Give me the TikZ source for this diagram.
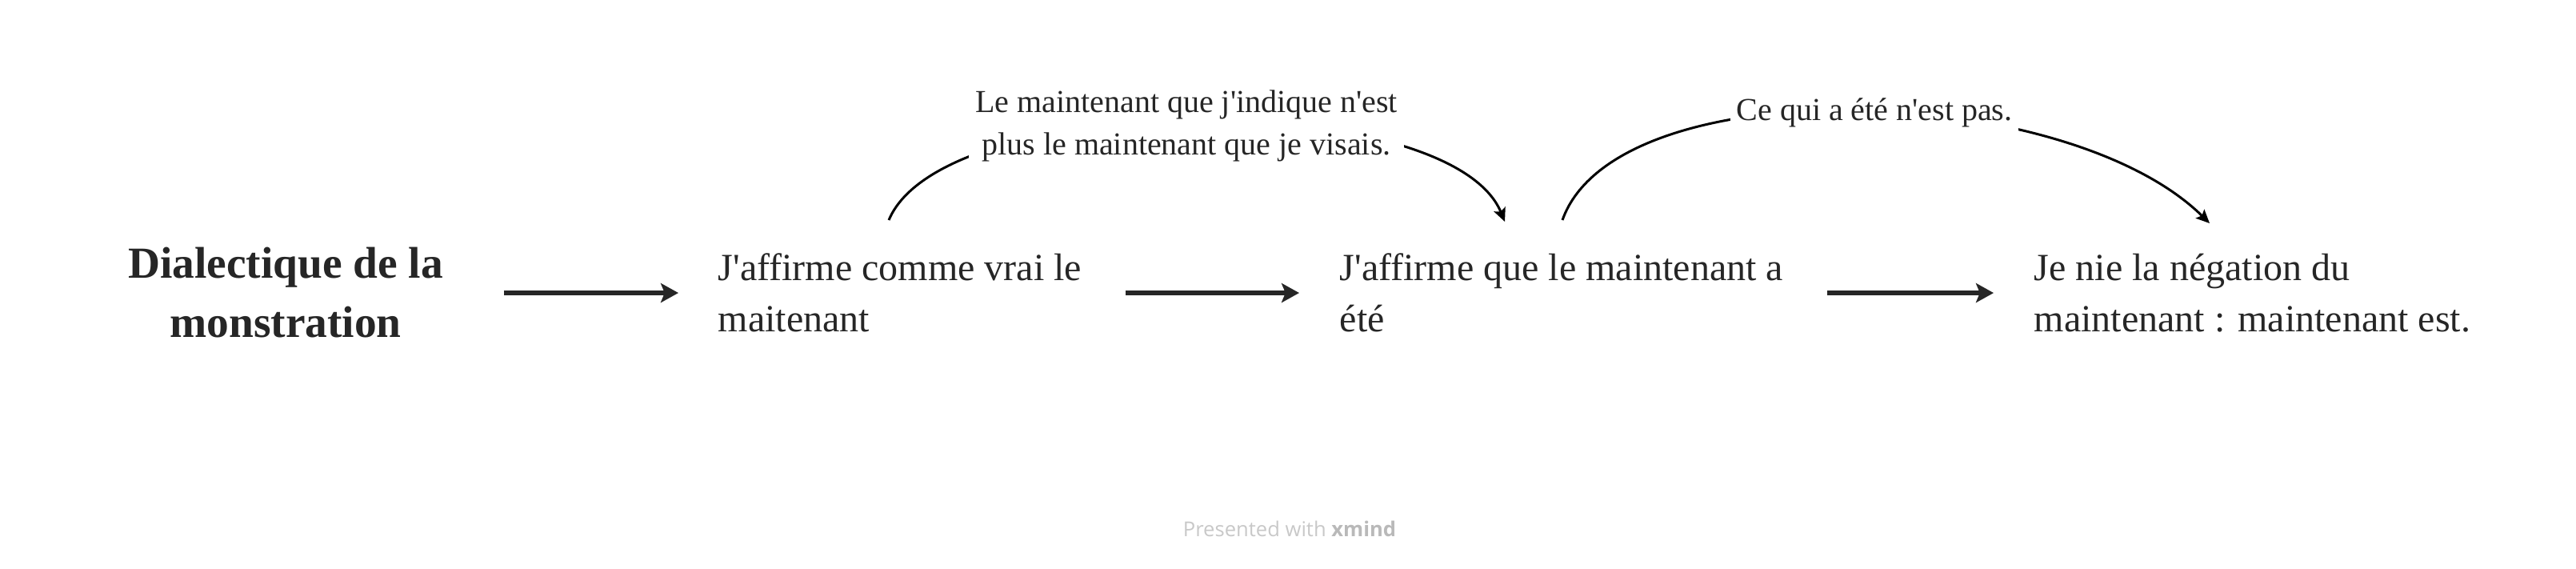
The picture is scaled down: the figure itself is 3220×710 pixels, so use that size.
\documentclass[tikz,border=0pt]{standalone}
\usepackage{fontspec}
\setmainfont{Liberation Serif}[Ligatures=TeXOff]
\newfontfamily\creditfont{Open Sans}
\usetikzlibrary{arrows.meta}
\definecolor{ink}{HTML}{262626}
\definecolor{creditgray}{HTML}{C8C8C8}
\begin{document}
\begin{tikzpicture}[x=0.25pt,y=-0.25pt,
  topic/.style={inner sep=0pt,align=left,text=ink,font=\fontsize{12}{16}\selectfont},
  flow/.style={draw=ink,line width=1.5pt,-{Stealth[length=5.5pt,width=6pt,inset=1.2pt]},
    shorten <=13.5pt,shorten >=12.5pt},
  rel/.style={draw=black,line width=0.75pt,-{Stealth[length=4.2pt,width=3.8pt,inset=0.8pt]}},
  relabel/.style={fill=white,inner sep=2pt,align=center,text=ink,font=\fontsize{10}{13.25}\selectfont}]
  \useasboundingbox (0,0) rectangle (3220,710);
  \node[topic,align=center,font=\bfseries\fontsize{13.85}{18.5}\selectfont] (root) at (357,366) {Dialectique de la\\monstration};
  \node[topic,anchor=west] (affirm) at (897,366) {J'affirme comme vrai le\\maitenant};
  \node[topic,anchor=west] (past) at (1674,366) {J'affirme que le maintenant a\\été};
  \node[topic,anchor=west] (negate) at (2542,366) {Je nie la négation du\\maintenant : maintenant est.};
  \draw[flow,shorten <=18.75pt,shorten >=12.25pt] (root.east) -- (affirm.west);
  \foreach \u/\v in {affirm/past, past/negate}{\draw[flow] (\u.east) -- (\v.west);}
  % relationship curves
  \coordinate (affirm-top) at (1111,275);
  \coordinate (past-in) at (1881,277);
  \coordinate (past-top) at (1953,275);
  \coordinate (negate-in) at (2762,279);
  \draw[rel] (affirm-top) .. controls (1180,110) and (1812,110) .. (past-in);
  \draw[rel] (past-top) .. controls (2020,85) and (2580,100) .. (negate-in);
  \node[relabel] (vise) at (1483,157) {Le maintenant que j'indique n'est\\plus le maintenant que je visais.};
  \node[relabel] (nonetre) at (2343,141) {Ce qui a été n'est pas.};
  \node[text=creditgray,font=\creditfont\fontsize{6.4}{7}\selectfont] (credit) at (1612,661) {Presented with \textbf{\color{gray!55}xmind}};
\end{tikzpicture}
\end{document}
